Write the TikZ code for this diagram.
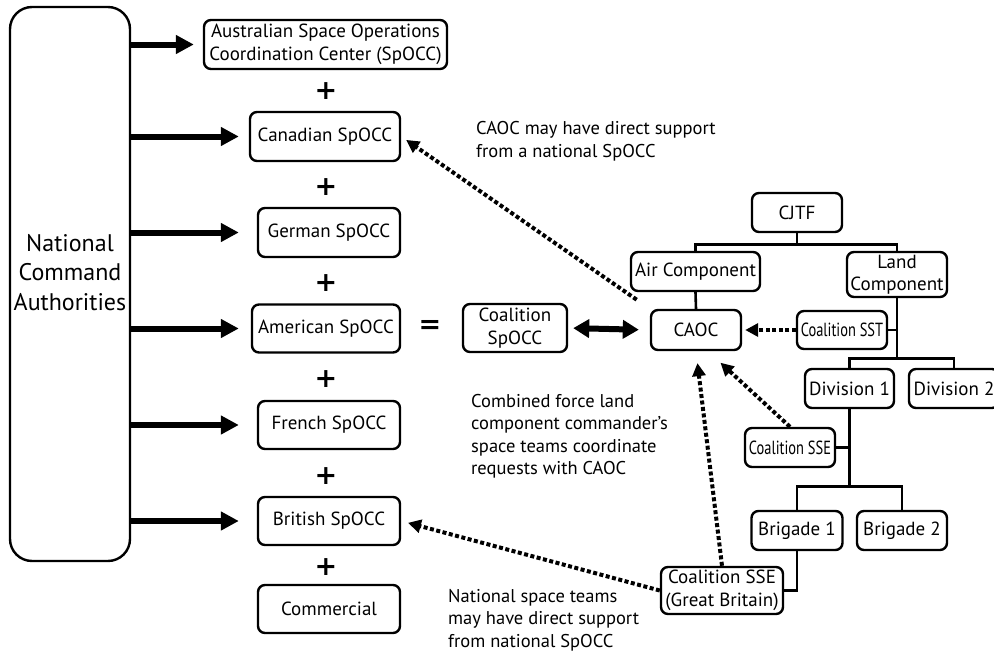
\documentclass[tikz,border=0pt]{standalone}
\usepackage{fontspec}
\setmainfont{PT Sans}
\newfontfamily\signfont{DejaVu Sans}
\usetikzlibrary{arrows.meta}

\begin{document}
\begin{tikzpicture}[x=1pt,y=-1pt,
  box/.style={draw,line width=2.4pt,rounded corners=7pt,align=center,inner sep=0pt,
    font=\fontsize{19}{22.5}\selectfont},
  note/.style={anchor=west,align=left,inner sep=0pt,font=\fontsize{18.5}{22.5}\selectfont},
  plus/.style={font=\signfont\fontsize{27}{27}\selectfont\bfseries,inner sep=0pt},
  feed/.style={line width=6pt,-{Triangle[length=18pt,width=18pt]}},
  tree/.style={line width=2.6pt},
  dotarrow/.style={line width=4pt,dash pattern=on 4pt off 2.5pt,-{Triangle[length=13pt,width=13pt]}},
  link/.style={line width=6pt,{Triangle[length=16pt,width=18pt]}-{Triangle[length=16pt,width=18pt]}}]
\useasboundingbox (0,0) rectangle (994,653);

% national side
\node[box,minimum width=120,minimum height=554,rounded corners=22pt,
  label={[font=\fontsize{24}{29.5}\selectfont,align=center,yshift=11.5pt]center:National\\Command\\Authorities}] (nca) at (70,284) {};
\node[box,minimum width=243,minimum height=49] (aus) at (325.5,44.5) {Australian Space Operations\\Coordination Center (SpOCC)};
\node[box,minimum width=150,minimum height=49] (can) at (325,136.5) {Canadian SpOCC};
\node[box,minimum width=142,minimum height=49] (ger) at (329,232.5) {German SpOCC};
\node[box,minimum width=148,minimum height=48] (ame) at (326,328.5) {American SpOCC};
\node[box,minimum width=142,minimum height=48] (fre) at (329,425) {French SpOCC};
\node[box,minimum width=142,minimum height=48] (bri) at (329,521) {British SpOCC};
\node[box,minimum width=142,minimum height=48] (com) at (329,609) {Commercial};
\node[plus] (p1) at (326,91) {+};
\node[plus] (p2) at (326,187) {+};
\node[plus] (p3) at (326,283) {+};
\node[plus] (p4) at (326,379) {+};
\node[plus] (p5) at (326,476) {+};
\node[plus] (p6) at (326,567) {+};
\node[plus] (eq) at (430,327) {=};

\draw[feed,shorten >=9pt] (nca.east |- aus.west) -- (aus.west);
\draw[feed,shorten >=10pt] (nca.east |- can.west) -- (can.west);
\draw[feed,shorten >=18pt] (nca.east |- ger.west) -- (ger.west);
\draw[feed,shorten >=12pt] (nca.east |- ame.west) -- (ame.west);
\draw[feed,shorten >=18pt] (nca.east |- fre.west) -- (fre.west);
\draw[feed,shorten >=18pt] (nca.east |- bri.west) -- (bri.west);

% coalition side
\node[box,minimum width=104,minimum height=48] (csp) at (515,328) {Coalition\\SpOCC};
\node[box,minimum width=90,minimum height=40] (caoc) at (696,330) {CAOC};
\node[box,minimum width=90,minimum height=39] (cjtf) at (797,212.5) {CJTF};
\node[box,minimum width=129,minimum height=39] (air) at (695.5,271.5) {Air Component};
\node[box,minimum width=100,minimum height=45] (land) at (897,274.5) {Land\\Component};
\node[box,minimum width=90,minimum height=38] (sst) at (842,330) {\scalebox{0.76}[1]{Coalition SST}};
\node[box,minimum width=89,minimum height=39] (div1) at (849.5,388.5) {Division 1};
\node[box,minimum width=90,minimum height=39] (div2) at (954,388.5) {Division 2};
\node[box,minimum width=90,minimum height=39] (sse) at (790,447.5) {\scalebox{0.76}[1]{Coalition SSE}};
\node[box,minimum width=91,minimum height=39] (brig1) at (797,530.5) {Brigade 1};
\node[box,minimum width=90,minimum height=39] (brig2) at (902,530.5) {Brigade 2};
\node[box,minimum width=122,minimum height=47] (gb) at (722,590.5) {Coalition SSE\\(Great Britain)};

\draw[tree] (cjtf.south) -- ++(0,11) coordinate (cjtfbar) -| (air.north);
\draw[tree] (cjtfbar) -| (land.north);
\draw[tree] (air.south) -- (caoc.north);
\draw[tree] (land.south) -- ++(0,60) coordinate (landbar) -| (div1.north);
\draw[tree] (landbar) -| (div2.north);
\draw[tree] (sst.east) -- (sst.east -| land.south);
\draw[tree] (div1.south) -- ++(0,77) coordinate (divbar) -| (brig1.north);
\draw[tree] (divbar) -| (brig2.north);
\draw[tree] (sse.east) -- (sse.east -| div1.south);
\draw[tree] (brig1.south) |- (gb.east);

\draw[link,shorten <=5pt,shorten >=11pt] (csp.east) -- (caoc.west);
\draw[dotarrow,shorten >=3pt] (sst.west) -- (caoc.east);
\draw[dotarrow,shorten <=16pt,shorten >=6pt] (caoc.north west) -- (can.east);
\draw[dotarrow,shorten >=17pt] (sse.north) -- ([xshift=12pt]caoc.south);
\draw[dotarrow,shorten >=12pt] (gb.north) -- (caoc.south);
\draw[dotarrow,shorten >=7pt] (gb.west) -- (bri.east);

% notes
\node[note] (n1) at (476,141.5) {CAOC may have direct support\\from a national SpOCC};
\node[note] (n2) at (471,436.5) {Combined force land\\component commander's\\space teams coordinate\\requests with CAOC};
\node[note] (n3) at (448,620) {National space teams\\may have direct support\\from national SpOCC};
\end{tikzpicture}
\end{document}
